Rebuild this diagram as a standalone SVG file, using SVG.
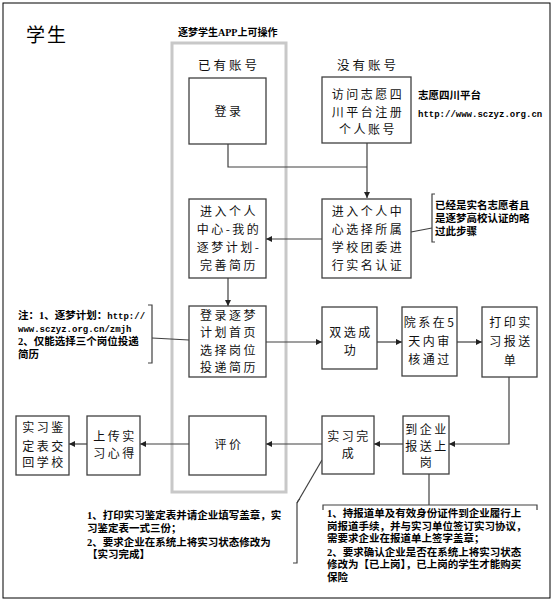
<svg xmlns="http://www.w3.org/2000/svg" width="556" height="604" viewBox="0 0 556 604">
<defs>
<marker id="ah" viewBox="0 0 10 10" refX="10" refY="5" markerWidth="6" markerHeight="6" orient="auto" markerUnits="userSpaceOnUse">
<path d="M0,0 L10,5 L0,10 z" fill="#222"/>
</marker>
<style>
.box{fill:#fff;stroke:#404040;stroke-width:1.3}
.bt{font-family:"Noto Sans CJK SC","Liberation Sans",sans-serif;font-size:12px;letter-spacing:2.5px;fill:#111;text-anchor:middle}
.hd{font-family:"Noto Sans CJK SC","Liberation Sans",sans-serif;font-size:12.5px;letter-spacing:3px;fill:#111;text-anchor:middle}
.nt{font-family:"Liberation Serif","Noto Sans CJK SC",serif;font-size:10.5px;font-weight:bold;fill:#000}
.mo{font-family:"Liberation Mono",monospace;font-size:9px;font-weight:bold}
.ln{fill:none;stroke:#404040;stroke-width:1.2}
.ar{fill:none;stroke:#404040;stroke-width:1.2;marker-end:url(#ah)}
</style>
</defs>
<rect x="3" y="3" width="547" height="595" fill="#fff" stroke="#000" stroke-width="1"/>
<text x="26" y="42" style="font-family:'Noto Sans CJK SC',sans-serif;font-size:19px;letter-spacing:2px">学生</text>
<text x="178" y="36" class="nt" style="font-size:10px">逐梦学生APP上可操作</text>
<rect id="app" x="172" y="43" width="114" height="449" fill="none" stroke="#c8c8c8" stroke-width="3"/>
<text x="229" y="70" class="hd">已有账号</text>
<text x="368" y="70" class="hd">没有账号</text>

<g id="connectors">
<path class="ln" d="M228 144 V167 H367"/>
<path class="ar" d="M367 143 V198"/>
<path class="ar" d="M322 239 H266"/>
<path class="ar" d="M228 278 V306"/>
<path class="ar" d="M266 342 H322"/>
<path class="ar" d="M377 342 H402"/>
<path class="ar" d="M457 342 H482"/>
<path class="ar" d="M509 377 V444 H449"/>
<path class="ar" d="M403 444 H374"/>
<path class="ar" d="M322 444 H266"/>
<path class="ar" d="M189 444 H140"/>
<path class="ar" d="M87 444 H69"/>
<path class="ln" d="M411 232 L432 228"/>
<path class="ln" d="M435 194 H432 V242 H435"/>
<path class="ln" d="M148 305 H152 V363 H148"/>
<path class="ln" d="M152 338 L189 340"/>
<path class="ln" d="M293 563 H297 V503 Q298 500 300 499"/>
<path class="ln" d="M297 503 L322 460"/>
<path class="ln" d="M323 510 V505 H537 V510"/>
<path class="ln" d="M429 474 V505"/>
</g>

<g id="n-login"><rect class="box" x="189" y="78" width="77" height="66"/><text class="bt" x="229" y="116">登录</text></g>
<g id="n-register"><rect class="box" x="322" y="77" width="89" height="66"/>
<text class="bt" x="368" y="99">访问志愿四</text><text class="bt" x="368" y="117">川平台注册</text><text class="bt" x="368" y="134">个人账号</text></g>
<g id="n-platform"><text class="nt" x="418" y="99">志愿四川平台</text><text class="nt mo" x="418" y="117">http://www.sczyz.org.cn</text></g>
<g id="n-verify"><rect class="box" x="322" y="199" width="89" height="79"/>
<text class="bt" x="368" y="216">进入个人中</text><text class="bt" x="368" y="234">心选择所属</text><text class="bt" x="368" y="252">学校团委进</text><text class="bt" x="368" y="270">行实名认证</text></g>
<g id="n-skip"><text class="nt" x="435" y="209">已经是实名志愿者且</text><text class="nt" x="435" y="222">是逐梦高校认证的略</text><text class="nt" x="435" y="235">过此步骤</text></g>
<g id="n-resume"><rect class="box" x="189" y="199" width="77" height="79"/>
<text class="bt" x="229" y="216">进入个人</text><text class="bt" x="229" y="234">中心-我的</text><text class="bt" x="229" y="252">逐梦计划-</text><text class="bt" x="229" y="270">完善简历</text></g>
<g id="n-apply"><rect class="box" x="189" y="306" width="77" height="71"/>
<text class="bt" x="229" y="320">登录逐梦</text><text class="bt" x="229" y="337">计划首页</text><text class="bt" x="229" y="355">选择岗位</text><text class="bt" x="229" y="372">投递简历</text></g>
<g id="n-note"><text class="nt" x="18" y="319">注：1、逐梦计划：<tspan class="mo">http://</tspan></text><text class="nt mo" x="18" y="332">www.sczyz.org.cn/zmjh</text><text class="nt" x="18" y="345">2、仅能选择三个岗位投递</text><text class="nt" x="18" y="358">简历</text></g>
<g id="n-match"><rect class="box" x="322" y="307" width="55" height="62"/>
<text class="bt" x="351" y="337">双选成</text><text class="bt" x="351" y="355">功</text></g>
<g id="n-review"><rect class="box" x="402" y="307" width="55" height="69"/>
<text class="bt" x="430" y="327">院系在5</text><text class="bt" x="430" y="346">天内审</text><text class="bt" x="430" y="364">核通过</text></g>
<g id="n-print"><rect class="box" x="482" y="307" width="55" height="70"/>
<text class="bt" x="511" y="327">打印实</text><text class="bt" x="511" y="346">习报送</text><text class="bt" x="511" y="365">单</text></g>
<g id="n-report"><rect class="box" x="403" y="416" width="46" height="58"/>
<text class="bt" x="427" y="434">到企业</text><text class="bt" x="427" y="451">报送上</text><text class="bt" x="427" y="467">岗</text></g>
<g id="n-done"><rect class="box" x="322" y="416" width="52" height="58"/>
<text class="bt" x="349" y="441">实习完</text><text class="bt" x="349" y="458">成</text></g>
<g id="n-eval"><rect class="box" x="189" y="416" width="77" height="59"/><text class="bt" x="229" y="449">评价</text></g>
<g id="n-upload"><rect class="box" x="87" y="416" width="53" height="59"/>
<text class="bt" x="115" y="441">上传实</text><text class="bt" x="115" y="458">习心得</text></g>
<g id="n-return"><rect class="box" x="16" y="416" width="53" height="59"/>
<text class="bt" x="44" y="432">实习鉴</text><text class="bt" x="44" y="451">定表交</text><text class="bt" x="44" y="467">回学校</text></g>
<g id="n-note2"><text class="nt" x="87" y="519">1、打印实习鉴定表并请企业填写盖章，实</text><text class="nt" x="87" y="532">习鉴定表一式三份；</text><text class="nt" x="87" y="546">2、要求企业在系统上将实习状态修改为</text><text class="nt" x="87" y="558">【实习完成】</text></g>
<g id="n-note3"><text class="nt" x="327" y="517">1、持报道单及有效身份证件到企业履行上</text><text class="nt" x="327" y="530">岗报道手续，并与实习单位签订实习协议，</text><text class="nt" x="327" y="542">需要求企业在报道单上签字盖章；</text><text class="nt" x="327" y="556">2、要求确认企业是否在系统上将实习状态</text><text class="nt" x="327" y="568">修改为【已上岗】，已上岗的学生才能购买</text><text class="nt" x="327" y="581">保险</text></g>
</svg>
